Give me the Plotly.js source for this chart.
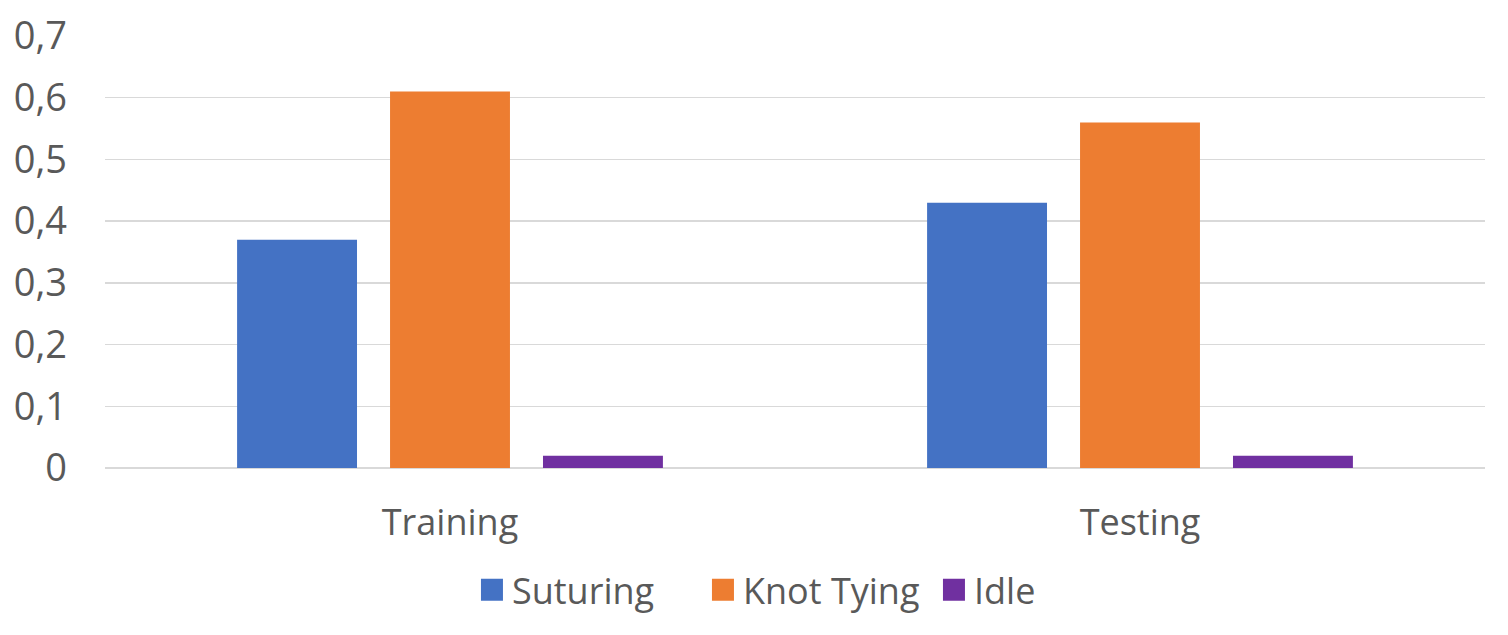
<!DOCTYPE html>
<html>
<head>
<meta charset="utf-8">
<script src="https://cdn.plot.ly/plotly-3.0.1.min.js"></script>
<style>html,body{margin:0;padding:0;background:#fff;}#chart{width:1508px;height:635px;}</style>
</head>
<body>
<div id="chart"></div>
<script>
const categories = ["Training", "Testing"];
const seriesNames = ["Suturing", "Knot Tying", "Idle"];
const suturing = [0.37, 0.43];
const knotTying = [0.61, 0.56];
const idle = [0.02, 0.02];
const yTickVals = [0, 0.1, 0.2, 0.3, 0.4, 0.5, 0.6, 0.7];
const yTickText = ["0", "0,1", "0,2", "0,3", "0,4", "0,5", "0,6", "0,7"];

const colors = ["#4472C4", "#ED7D31", "#7030A0"];
const values = [suturing, knotTying, idle];
const FONT = "Open Sans, Liberation Sans, sans-serif";

const traces = values.map((v, i) => ({
  type: "bar",
  name: seriesNames[i],
  x: categories,
  y: v,
  marker: {color: colors[i]},
  hoverinfo: "skip"
}));

const layout = {
  width: 1508,
  height: 635,
  margin: {l: 105, r: 23, t: 36, b: 167},
  paper_bgcolor: "#ffffff",
  plot_bgcolor: "#ffffff",
  barmode: "group",
  bargap: 0.335,
  bargroupgap: 0.216,
  font: {family: FONT, color: "#595959", size: 36},
  xaxis: {
    showgrid: false,
    showline: false,
    zeroline: false,
    ticks: "",
    ticklabelstandoff: 30,
    tickfont: {family: FONT, size: 36, color: "#595959"}
  },
  yaxis: {
    range: [0, 0.7],
    tickvals: yTickVals,
    ticktext: yTickText,
    showgrid: true,
    gridcolor: "#d9d9d9",
    gridwidth: 1.5,
    zeroline: true,
    zerolinecolor: "#d9d9d9",
    zerolinewidth: 1.5,
    showline: false,
    ticks: "",
    ticklabelstandoff: 37,
    tickfont: {family: FONT, size: 38, color: "#595959"}
  },
  legend: {
    orientation: "h",
    x: 0.517,
    xanchor: "center",
    y: -0.282,
    yanchor: "middle",
    font: {family: FONT, size: 36, color: "#595959"},
    itemwidth: 30,
    entrywidth: 186
  },
  showlegend: true
};

Plotly.newPlot("chart", traces, layout, {staticPlot: true, displayModeBar: false}).then(function (gd) {
  // enlarge the legend colour squares to match the reference
  gd.querySelectorAll(".legend .legendpoints path").forEach(function (p) {
    p.setAttribute("d", "M11,11H-11V-11H11Z");
  });
});
</script>
</body>
</html>
